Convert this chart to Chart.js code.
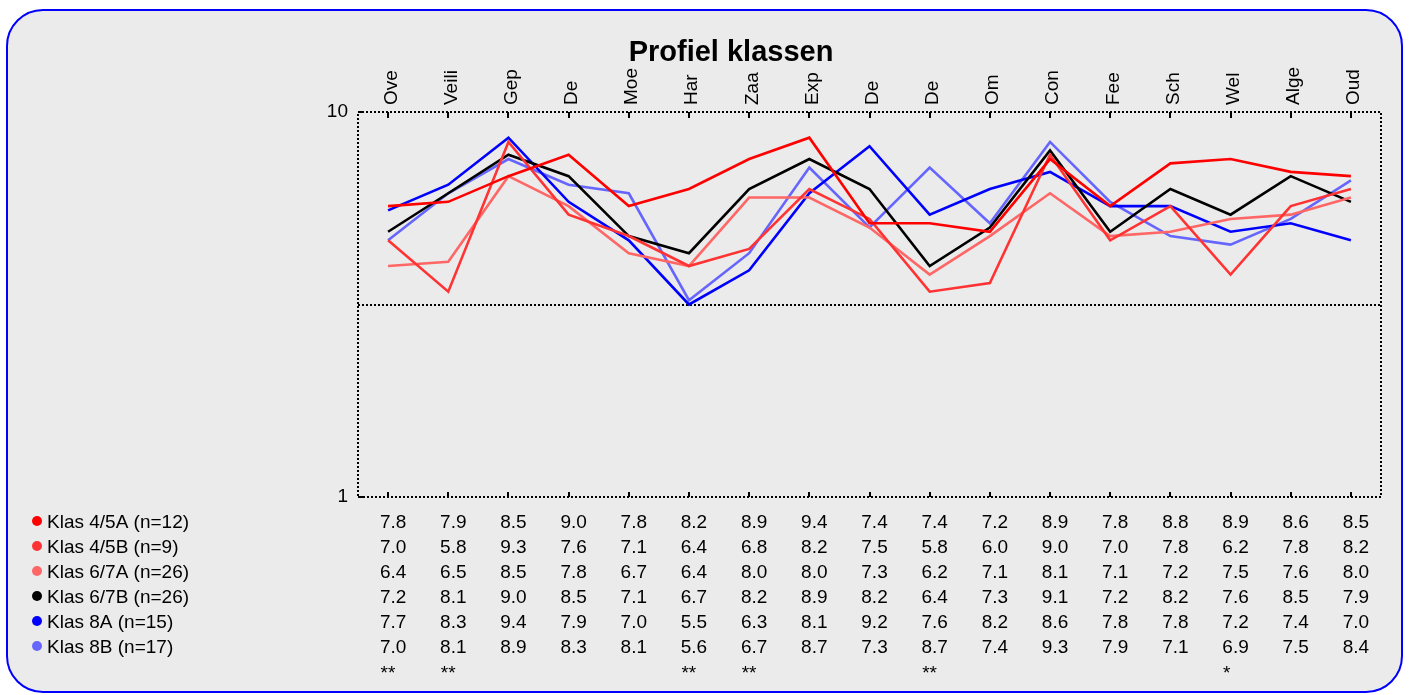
<!DOCTYPE html>
<html>
<head>
<meta charset="utf-8">
<title>Profiel klassen</title>
<script src="https://cdn.jsdelivr.net/npm/chart.js@4/dist/chart.umd.min.js"></script>
<style>
  html, body { margin: 0; padding: 0; background: #fff; }
  canvas { display: block; }
</style>
</head>
<body>
<canvas id="profielChart" width="1410" height="695"></canvas>
<script>
// categories along the top axis
const categories = ['Ove', 'Veili', 'Gep', 'De', 'Moe', 'Har', 'Zaa', 'Exp', 'De', 'De', 'Om', 'Con', 'Fee', 'Sch', 'Wel', 'Alge', 'Oud'];

const groupNames = ['Klas 4/5A (n=12)', 'Klas 4/5B (n=9)', 'Klas 6/7A (n=26)', 'Klas 6/7B (n=26)', 'Klas 8A (n=15)', 'Klas 8B (n=17)'];

const klas45A = [7.8, 7.9, 8.5, 9.0, 7.8, 8.2, 8.9, 9.4, 7.4, 7.4, 7.2, 8.9, 7.8, 8.8, 8.9, 8.6, 8.5];
const klas45B = [7.0, 5.8, 9.3, 7.6, 7.1, 6.4, 6.8, 8.2, 7.5, 5.8, 6.0, 9.0, 7.0, 7.8, 6.2, 7.8, 8.2];
const klas67A = [6.4, 6.5, 8.5, 7.8, 6.7, 6.4, 8.0, 8.0, 7.3, 6.2, 7.1, 8.1, 7.1, 7.2, 7.5, 7.6, 8.0];
const klas67B = [7.2, 8.1, 9.0, 8.5, 7.1, 6.7, 8.2, 8.9, 8.2, 6.4, 7.3, 9.1, 7.2, 8.2, 7.6, 8.5, 7.9];
const klas8A  = [7.7, 8.3, 9.4, 7.9, 7.0, 5.5, 6.3, 8.1, 9.2, 7.6, 8.2, 8.6, 7.8, 7.8, 7.2, 7.4, 7.0];
const klas8B  = [7.0, 8.1, 8.9, 8.3, 8.1, 5.6, 6.7, 8.7, 7.3, 8.7, 7.4, 9.3, 7.9, 7.1, 6.9, 7.5, 8.4];

// significance markers under the table
const significance = ['**', '**', '', '', '', '**', '**', '', '', '**', '', '', '', '', '*', '', ''];

// y axis
const yMin = 1;
const yMax = 10;
const yTickValues = [1, 10];
const midValue = 5.5;

const groupValues = [klas45A, klas45B, klas67A, klas67B, klas8A, klas8B];
const groupColors = ['#ff0000', '#ff3333', '#ff6666', '#000000', '#0000ff', '#6666ff'];

const FONT = '"Liberation Sans", Arial, sans-serif';
Chart.defaults.font.family = FONT;
Chart.defaults.color = '#000';

function strokeLine(c, x1, y1, x2, y2) {
  c.beginPath();
  c.moveTo(x1, y1);
  c.lineTo(x2, y2);
  c.stroke();
}

const decor = {
  id: 'decor',
  beforeDraw(chart) {
    const c = chart.ctx;
    c.save();
    c.fillStyle = '#ffffff';
    c.fillRect(0, 0, chart.width, chart.height);
    c.beginPath();
    c.roundRect(7, 10, 1395, 682, 36);
    c.fillStyle = '#ebebeb';
    c.fill();
    c.lineWidth = 2;
    c.strokeStyle = '#0000ff';
    c.stroke();
    c.restore();
  },
  beforeDatasetsDraw(chart) {
    const { ctx: c, chartArea: a, scales: { y } } = chart;
    const ym = Math.round(y.getPixelForValue(midValue));
    c.save();
    c.strokeStyle = '#000';
    c.lineWidth = 2;
    c.setLineDash([2, 2]);
    strokeLine(c, a.left, ym, a.right, ym);
    c.restore();
  },
  afterDraw(chart) {
    const { ctx: c, chartArea: a, scales: { x, y } } = chart;
    c.save();

    // title
    c.fillStyle = '#000';
    c.font = 'bold 29px ' + FONT;
    c.textAlign = 'center';
    c.textBaseline = 'alphabetic';
    c.fillText('Profiel klassen', 731, 61);

    // dotted plot frame
    c.strokeStyle = '#000';
    c.lineWidth = 2;
    c.setLineDash([2, 2]);
    c.strokeRect(a.left, a.top, a.right - a.left, a.bottom - a.top);
    c.setLineDash([]);

    // inward tick marks
    categories.forEach((_, i) => {
      const px = Math.round(x.getPixelForValue(i));
      strokeLine(c, px, a.top, px, a.top + 6);
      strokeLine(c, px, a.bottom, px, a.bottom - 5);
    });
    yTickValues.forEach(v => {
      const py = Math.round(y.getPixelForValue(v));
      strokeLine(c, a.left, py, a.left + 6, py);
    });

    // legend + value table
    c.font = '19px ' + FONT;
    groupNames.forEach((name, i) => {
      const base = 528 + 25 * i;
      c.fillStyle = groupColors[i];
      c.beginPath();
      c.arc(37, base - 7, 5, 0, Math.PI * 2);
      c.fill();
      c.fillStyle = '#000';
      c.textAlign = 'left';
      c.fillText(name, 47, base);
      c.textAlign = 'center';
      groupValues[i].forEach((v, j) => {
        c.fillText(v.toFixed(1), x.getPixelForValue(j) + 5, base);
      });
    });
    c.textAlign = 'left';
    significance.forEach((s, j) => {
      if (s) c.fillText(s, x.getPixelForValue(j) - 7.5, 679);
    });

    c.restore();
  }
};

new Chart(document.getElementById('profielChart'), {
  type: 'line',
  data: {
    labels: categories,
    datasets: groupNames.map((name, i) => ({
      label: name,
      data: groupValues[i],
      borderColor: groupColors[i],
      backgroundColor: groupColors[i],
      borderWidth: 2.6,
      pointRadius: 0,
      tension: 0,
    })),
  },
  options: {
    responsive: false,
    animation: false,
    layout: { padding: { left: 300, right: 29, top: 52, bottom: 198 } },
    plugins: {
      legend: { display: false },
      title: { display: false },
      tooltip: { enabled: false },
    },
    scales: {
      x: {
        type: 'category',
        position: 'top',
        offset: true,
        grid: { display: false, drawTicks: false },
        border: { display: false },
        ticks: {
          autoSkip: false,
          minRotation: 90,
          maxRotation: 90,
          padding: 7,
          labelOffset: 26,
          color: '#000',
          font: { size: 19 },
        },
        afterFit(scale) { scale.height = 60; },
      },
      y: {
        type: 'linear',
        min: yMin,
        max: yMax,
        grid: { display: false, drawTicks: false },
        border: { display: false },
        afterBuildTicks(scale) { scale.ticks = yTickValues.map(v => ({ value: v })); },
        ticks: {
          padding: 10,
          color: '#000',
          font: { size: 19 },
        },
        afterFit(scale) { scale.width = 58; },
      },
    },
  },
  plugins: [decor],
});
</script>
</body>
</html>
